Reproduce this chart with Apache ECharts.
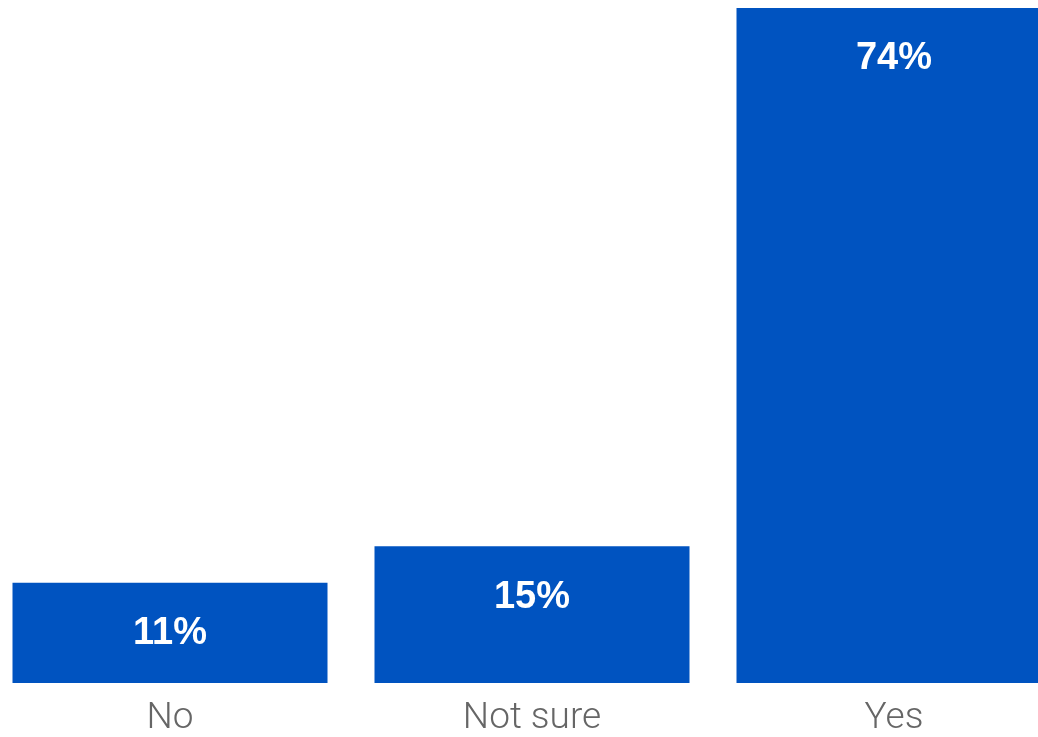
<!DOCTYPE html>
<html>
<head>
<meta charset="utf-8">
<script src="https://cdn.jsdelivr.net/npm/echarts@6/dist/echarts.min.js"></script>
<style>
  html, body { margin: 0; padding: 0; background: #ffffff; overflow: hidden; width: 1038px; height: 737px; }
  /* the plot is a little wider than the page so the last bar runs off the right edge */
  #chart { position: absolute; top: 0; left: -11px; width: 1086px; height: 737px; }
</style>
</head>
<body>
<div id="chart"></div>
<script>
// Survey answers and their shares (percent)
const categories = ['No', 'Not sure', 'Yes'];
const shares = [11, 15, 74];

const chart = echarts.init(document.getElementById('chart'), null, { renderer: 'canvas' });

chart.setOption({
  animation: false,
  grid: { left: 0, right: 0, top: 8, bottom: 51, containLabel: false },
  xAxis: {
    type: 'category',
    data: categories,
    axisLine: { show: false },
    axisTick: { show: false },
    axisLabel: {
      margin: 17,
      color: '#666666',
      fontFamily: 'Roboto, "Liberation Sans", sans-serif',
      fontWeight: 300,
      fontSize: 37,
      lineHeight: 37
    }
  },
  yAxis: {
    type: 'value',
    min: 0,
    max: 74,
    show: false,
    splitLine: { show: false }
  },
  series: [{
    type: 'bar',
    data: shares,
    barWidth: 315,
    itemStyle: { color: '#0053C0' },
    label: {
      show: true,
      position: 'insideTop',
      distance: 32,
      formatter: p => p.value + '%',
      color: '#ffffff',
      fontFamily: '"Liberation Sans", Arial, sans-serif',
      fontWeight: 'bold',
      fontSize: 38,
      lineHeight: 38
    }
  }]
});
</script>
</body>
</html>
